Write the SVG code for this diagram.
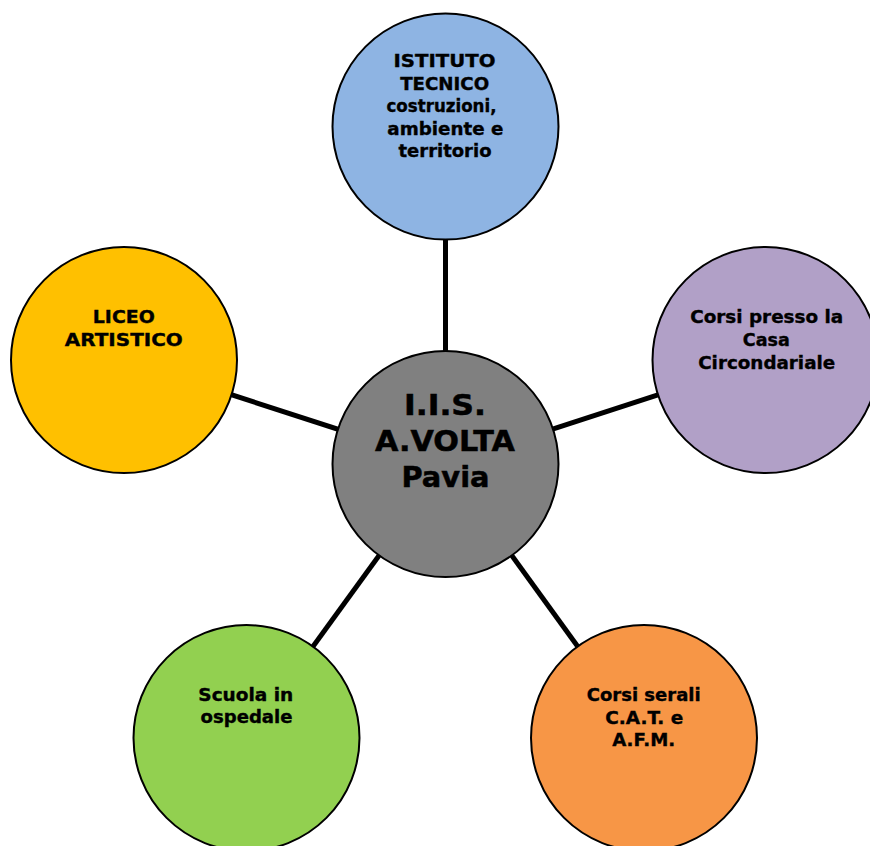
<svg xmlns="http://www.w3.org/2000/svg" width="870" height="846" viewBox="0 0 870 846">
<style>
.c{stroke:#000;stroke-width:2}
.l{stroke:#000;stroke-width:5;fill:none}
text{font-family:"DejaVu Sans","Verdana",sans-serif;font-weight:bold;fill:#000;stroke:#000;stroke-width:0.35;text-anchor:middle}
.s{font-size:17px}
.b{font-size:28px;stroke-width:0.5}
</style>
<rect width="870" height="846" fill="#fff"/>
<g id="connectors">
<line class="l" x1="445.5" y1="126.5" x2="445.5" y2="464"/>
<line class="l" x1="765" y1="360" x2="445.5" y2="464"/>
<line class="l" x1="124" y1="360" x2="445.5" y2="464"/>
<line class="l" x1="246.5" y1="738" x2="445.5" y2="464"/>
<line class="l" x1="644" y1="738" x2="445.5" y2="464"/>
</g>
<g id="n-top">
<circle class="c" cx="445.5" cy="126.5" r="113" fill="#8EB4E3"/>
<text class="s" x="444.5" y="67" textLength="102" lengthAdjust="spacingAndGlyphs">ISTITUTO</text>
<text class="s" x="444.7" y="89.5" textLength="89" lengthAdjust="spacingAndGlyphs">TECNICO</text>
<text class="s" x="441.5" y="112" textLength="110" lengthAdjust="spacingAndGlyphs">costruzioni,</text>
<text class="s" x="445.3" y="134.5" textLength="116" lengthAdjust="spacingAndGlyphs">ambiente e</text>
<text class="s" x="445" y="157" textLength="93" lengthAdjust="spacingAndGlyphs">territorio</text>
</g>
<g id="n-center">
<circle class="c" cx="445.5" cy="464" r="113" fill="#808080"/>
<text class="b" x="445" y="415" textLength="82" lengthAdjust="spacingAndGlyphs">I.I.S.</text>
<text class="b" x="445" y="451" textLength="140" lengthAdjust="spacingAndGlyphs">A.VOLTA</text>
<text class="b" x="445.5" y="487" textLength="88" lengthAdjust="spacingAndGlyphs">Pavia</text>
</g>
<g id="n-right">
<circle class="c" cx="765.5" cy="360" r="113" fill="#B1A0C7"/>
<text class="s" x="766.7" y="323" textLength="153" lengthAdjust="spacingAndGlyphs">Corsi presso la</text>
<text class="s" x="766.3" y="346" textLength="47" lengthAdjust="spacingAndGlyphs">Casa</text>
<text class="s" x="766.7" y="369" textLength="137" lengthAdjust="spacingAndGlyphs">Circondariale</text>
</g>
<g id="n-left">
<circle class="c" cx="124" cy="360" r="113" fill="#FFC000"/>
<text class="s" x="123.8" y="323" textLength="62" lengthAdjust="spacingAndGlyphs">LICEO</text>
<text class="s" x="123.8" y="346" textLength="118" lengthAdjust="spacingAndGlyphs">ARTISTICO</text>
</g>
<g id="n-bottom-left">
<circle class="c" cx="246.5" cy="738" r="113" fill="#92D050"/>
<text class="s" x="245.8" y="701" textLength="95" lengthAdjust="spacingAndGlyphs">Scuola in</text>
<text class="s" x="246.5" y="723" textLength="92" lengthAdjust="spacingAndGlyphs">ospedale</text>
</g>
<g id="n-bottom-right">
<circle class="c" cx="644" cy="738" r="113" fill="#F79646"/>
<text class="s" x="643.7" y="701" textLength="114" lengthAdjust="spacingAndGlyphs">Corsi serali</text>
<text class="s" x="644.2" y="724" textLength="78" lengthAdjust="spacingAndGlyphs">C.A.T. e</text>
<text class="s" x="643.7" y="746" textLength="63" lengthAdjust="spacingAndGlyphs">A.F.M.</text>
</g>
</svg>
